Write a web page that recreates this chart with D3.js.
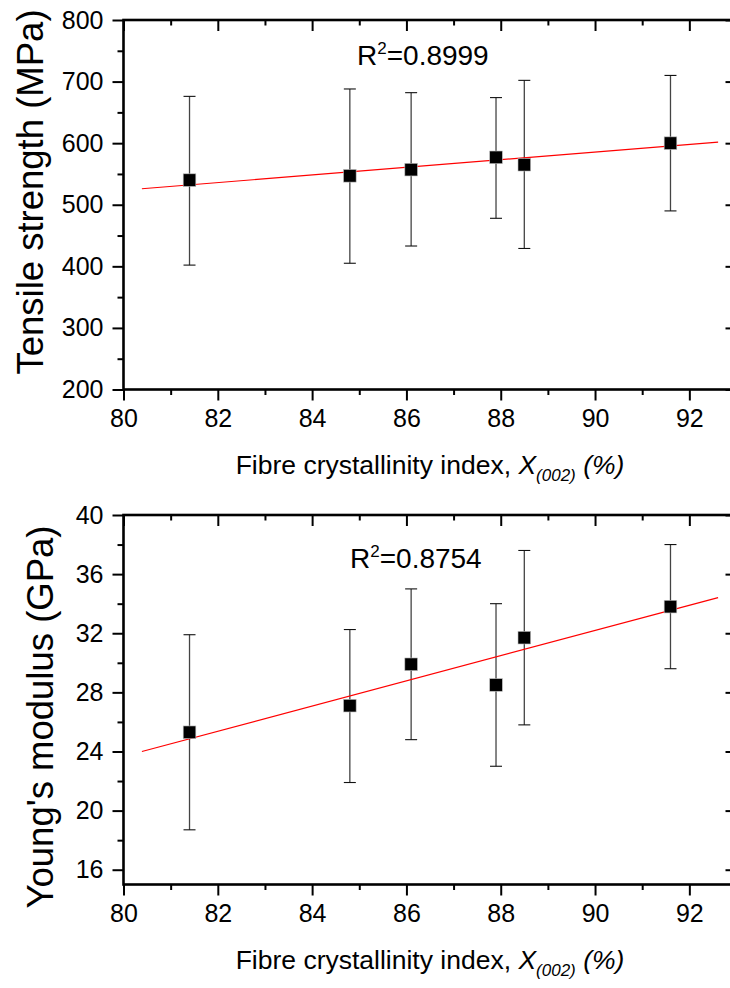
<!DOCTYPE html>
<html>
<head>
<meta charset="utf-8">
<script src="https://cdn.jsdelivr.net/npm/d3@7"></script>
<style>
  html, body { margin: 0; padding: 0; background: #fff; }
  svg { display: block; font-family: "Liberation Sans", Arial, sans-serif; }
</style>
</head>
<body>
<svg id="chart" width="730" height="988"></svg>
<script>
// ---- data ----
const crystallinity = [81.4, 84.8, 86.1, 87.9, 88.5, 91.6];

const tensile      = [540, 547, 557, 577, 565, 600];
const tensileUpper = [676, 688, 682, 674, 702, 710];
const tensileLower = [402, 405, 433, 478, 429, 490];

const young      = [25.3, 27.1, 29.9, 28.5, 31.7, 33.8];
const youngUpper = [31.9, 32.25, 35.0, 34.0, 37.6, 38.0];
const youngLower = [18.7, 21.9, 24.8, 23.0, 25.8, 29.6];

const fitX       = [80.39, 92.61];
const tensileFit = [526, 601.8];
const youngFit   = [24.0, 34.41];

const xTicks        = [80, 82, 84, 86, 88, 90, 92];
const xMinorTicks   = [81, 83, 85, 87, 89, 91, 93];
const tensileTicks  = [200, 300, 400, 500, 600, 700, 800];
const tensileMinor  = [250, 350, 450, 550, 650, 750];
const youngTicks    = [16, 20, 24, 28, 32, 36, 40];
const youngMinor    = [18, 22, 26, 30, 34, 38];

const r2Labels = ["0.8999", "0.8754"];
const yTitles  = ["Tensile strength (MPa)", "Young's modulus (GPa)"];

// ---- drawing ----
const svg = d3.select("#chart");
const xLeft = 123.5, xRight = 736.5;
const x = d3.scaleLinear().domain([80, 93]).range([xLeft, xRight]);

const panels = [
  { y: d3.scaleLinear().domain([200, 800]).range([389.5, 20]),
    vals: tensile, up: tensileUpper, lo: tensileLower, fit: tensileFit,
    ticks: tensileTicks, minor: tensileMinor, r2: r2Labels[0], title: yTitles[0],
    r2x: 357, r2y: 65, titleX: 43, titleY: 192 },
  { y: d3.scaleLinear().domain([15, 40]).range([884.5, 515]),
    vals: young, up: youngUpper, lo: youngLower, fit: youngFit,
    ticks: youngTicks, minor: youngMinor, r2: r2Labels[1], title: yTitles[1],
    r2x: 350, r2y: 568, titleX: 53, titleY: 717 }
];

const tickFont = 25;

panels.forEach(p => {
  const y = p.y;
  const [yBot, yTop] = y.range();
  const g = svg.append("g");

  // error bars
  const eb = g.append("g").attr("stroke", "#111").attr("stroke-width", 1.1);
  crystallinity.forEach((cx, i) => {
    const px = x(cx);
    eb.append("line").attr("x1", px).attr("x2", px).attr("y1", y(p.up[i])).attr("y2", y(p.lo[i])).attr("stroke", "#444").attr("stroke-width", 1.3);
    [p.up[i], p.lo[i]].forEach(v => {
      eb.append("line").attr("x1", px - 6).attr("x2", px + 6).attr("y1", y(v)).attr("y2", y(v));
    });
  });

  // fit line
  g.append("line")
    .attr("x1", x(fitX[0])).attr("y1", y(p.fit[0]))
    .attr("x2", x(fitX[1])).attr("y2", y(p.fit[1]))
    .attr("stroke", "#ff0000").attr("stroke-width", 1.2);

  // markers
  g.selectAll("rect.pt").data(crystallinity).enter().append("rect")
    .attr("class", "pt")
    .attr("x", d => x(d) - 6.3).attr("width", 12.6)
    .attr("y", (d, i) => y(p.vals[i]) - 6.3).attr("height", 12.6)
    .attr("fill", "#000").attr("stroke", "#bbb").attr("stroke-width", 0.6);

  // axes
  const styleAxis = (sel) => {
    sel.select(".domain").remove();
    sel.selectAll(".tick line").attr("stroke", "#000").attr("stroke-width", 2);
    sel.selectAll(".tick text").attr("fill", "#000").attr("font-size", tickFont)
      .attr("font-family", "'Liberation Sans', Arial, sans-serif");
  };

  // bottom
  g.append("g").attr("transform", `translate(0,${yBot})`)
    .call(d3.axisBottom(x).tickValues(xTicks).tickSize(11).tickPadding(9).tickFormat(d3.format("d")))
    .call(styleAxis);
  g.append("g").attr("transform", `translate(0,${yBot})`)
    .call(d3.axisBottom(x).tickValues(xMinorTicks).tickSize(5.5).tickFormat(""))
    .call(styleAxis);
  // top (inward)
  g.append("g").attr("transform", `translate(0,${yTop})`)
    .call(d3.axisBottom(x).tickValues(xTicks).tickSize(11).tickFormat(""))
    .call(styleAxis);
  g.append("g").attr("transform", `translate(0,${yTop})`)
    .call(d3.axisBottom(x).tickValues(xMinorTicks).tickSize(5.5).tickFormat(""))
    .call(styleAxis);
  // left
  g.append("g").attr("transform", `translate(${xLeft},0)`)
    .call(d3.axisLeft(y).tickValues(p.ticks).tickSize(11).tickPadding(9).tickFormat(d3.format("d")))
    .call(styleAxis);
  g.append("g").attr("transform", `translate(${xLeft},0)`)
    .call(d3.axisLeft(y).tickValues(p.minor).tickSize(6).tickFormat(""))
    .call(styleAxis);
  // right (inward)
  g.append("g").attr("transform", `translate(${xRight},0)`)
    .call(d3.axisLeft(y).tickValues(p.ticks).tickSize(11).tickFormat(""))
    .call(styleAxis);
  g.append("g").attr("transform", `translate(${xRight},0)`)
    .call(d3.axisLeft(y).tickValues(p.minor).tickSize(5.5).tickFormat(""))
    .call(styleAxis);

  // frame
  g.append("rect")
    .attr("x", xLeft).attr("y", yTop)
    .attr("width", xRight - xLeft).attr("height", yBot - yTop)
    .attr("fill", "none").attr("stroke", "#000").attr("stroke-width", 2.6);

  // R^2 label
  const r = g.append("text").attr("x", p.r2x).attr("y", p.r2y)
    .attr("font-size", 28).attr("fill", "#000");
  r.append("tspan").text("R");
  r.append("tspan").attr("font-size", 17).attr("dy", -11).text("2");
  r.append("tspan").attr("dy", 11).text("=" + p.r2);

  // y title
  g.append("text")
    .attr("transform", `translate(${p.titleX},${p.titleY}) rotate(-90)`)
    .attr("text-anchor", "middle").attr("font-size", 36.5).attr("fill", "#000")
    .text(p.title);

  // x title
  const xt = g.append("text")
    .attr("x", (xLeft + xRight) / 2).attr("y", yBot + 84)
    .attr("text-anchor", "middle").attr("font-size", 26.5).attr("fill", "#000");
  xt.append("tspan").text("Fibre crystallinity index, ");
  xt.append("tspan").attr("font-style", "italic").text("X");
  xt.append("tspan").attr("font-style", "italic").attr("font-size", 17).attr("dy", 7).text("(002)");
  xt.append("tspan").attr("font-style", "italic").attr("dy", -7).text(" (%)");
});
</script>
</body>
</html>
